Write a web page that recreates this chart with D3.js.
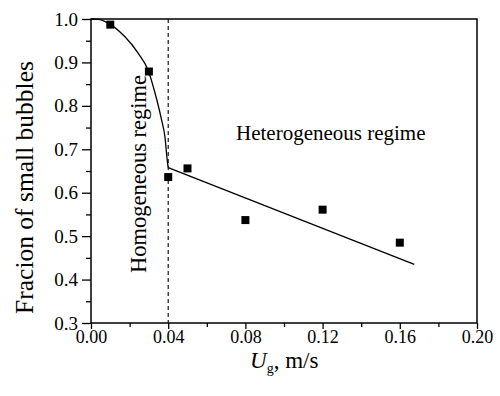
<!DOCTYPE html>
<html>
<head>
<meta charset="utf-8">
<script src="https://cdn.jsdelivr.net/npm/d3@7"></script>
<style>
  body { margin: 0; background: #fff; }
</style>
</head>
<body>
<svg id="chart" width="500" height="396"></svg>
<script>
// measured points
const ugData = [0.01, 0.03, 0.04, 0.05, 0.08, 0.12, 0.16];
const fracData = [0.987, 0.879, 0.636, 0.656, 0.537, 0.561, 0.485];

// model curve (homogeneous part, then linear heterogeneous part)
const curveUg = [0, 0.004, 0.0073, 0.0176, 0.0245, 0.0297, 0.0332, 0.0366, 0.0383, 0.0395, 0.04];
const curveFrac = [1.0, 0.999, 0.994, 0.959, 0.921, 0.881, 0.829, 0.767, 0.729, 0.675, 0.658];
const lineUg = [0.04, 0.1675];
const lineFrac = [0.658, 0.435];

const xTicks = [0, 0.04, 0.08, 0.12, 0.16, 0.20];
const yTicks = [0.3, 0.4, 0.5, 0.6, 0.7, 0.8, 0.9, 1.0];
const boundary = 0.04;

const FONT = 'Liberation Serif';
const margin = {left: 91, top: 19, right: 23, bottom: 73};
const W = 500, H = 396;

const svg = d3.select('#chart').attr('font-family', FONT);

const x = d3.scaleLinear().domain([0, 0.2]).range([margin.left, W - margin.right]);
const y = d3.scaleLinear().domain([0.3, 1.0]).range([H - margin.bottom, margin.top]);

// minor ticks
const xMinor = d3.range(0.02, 0.2, 0.04);
const yMinor = d3.range(0.35, 1.0, 0.1);

svg.append('g')
  .attr('transform', `translate(0,${y(0.3)})`)
  .call(d3.axisBottom(x).tickValues(xMinor).tickSize(4).tickFormat(''))
  .call(g => g.select('.domain').remove())
  .selectAll('line').attr('stroke-width', 1.3);

svg.append('g')
  .attr('transform', `translate(${x(0)},0)`)
  .call(d3.axisLeft(y).tickValues(yMinor).tickSize(5).tickFormat(''))
  .call(g => g.select('.domain').remove())
  .selectAll('line').attr('stroke-width', 1.3);

const xAxis = svg.append('g')
  .attr('transform', `translate(0,${y(0.3)})`)
  .call(d3.axisBottom(x).tickValues(xTicks).tickSize(6).tickPadding(1).tickFormat(d3.format('.2f')))
  .attr('font-family', FONT).attr('font-size', 18);
xAxis.select('.domain').remove();
xAxis.selectAll('line').attr('stroke-width', 1.3);

const yAxis = svg.append('g')
  .attr('transform', `translate(${x(0)},0)`)
  .call(d3.axisLeft(y).tickValues(yTicks).tickSize(9).tickPadding(4).tickFormat(d3.format('.1f')))
  .attr('font-family', FONT).attr('font-size', 19);
yAxis.select('.domain').remove();
yAxis.selectAll('line').attr('stroke-width', 1.3);

// frame
svg.append('rect')
  .attr('x', x(0)).attr('y', y(1.0))
  .attr('width', x(0.2) - x(0)).attr('height', y(0.3) - y(1.0))
  .attr('fill', 'none').attr('stroke', '#000').attr('stroke-width', 1.5);

// regime boundary
svg.append('line')
  .attr('x1', x(boundary)).attr('x2', x(boundary))
  .attr('y1', y(1.0)).attr('y2', y(0.3))
  .attr('stroke', '#000').attr('stroke-width', 1.1)
  .attr('stroke-dasharray', '4,3');

// model line
svg.append('path')
  .datum(d3.zip(curveUg, curveFrac))
  .attr('d', d3.line().x(d => x(d[0])).y(d => y(d[1])).curve(d3.curveMonotoneX))
  .attr('fill', 'none').attr('stroke', '#000').attr('stroke-width', 1.3);
svg.append('path')
  .datum(d3.zip(lineUg, lineFrac))
  .attr('d', d3.line().x(d => x(d[0])).y(d => y(d[1])))
  .attr('fill', 'none').attr('stroke', '#000').attr('stroke-width', 1.3);

// markers
const ms = 8;
svg.selectAll('rect.pt').data(d3.zip(ugData, fracData))
  .enter().append('rect')
  .attr('class', 'pt')
  .attr('x', d => x(d[0]) - ms / 2)
  .attr('y', d => y(d[1]) - ms / 2)
  .attr('width', ms).attr('height', ms)
  .attr('fill', '#000');

// annotations
svg.append('text')
  .attr('x', 236).attr('y', 140)
  .attr('font-size', 21)
  .text('Heterogeneous regime');

svg.append('text')
  .attr('transform', 'translate(146,273) rotate(-90)')
  .attr('font-size', 22.5)
  .text('Homogeneous regime');

// axis titles
svg.append('text')
  .attr('transform', 'translate(33,187.5) rotate(-90)')
  .attr('text-anchor', 'middle')
  .attr('font-size', 25.5)
  .text('Fracion of small bubbles');

const xt = svg.append('text')
  .attr('x', 250).attr('y', 368)
  .attr('font-size', 23);
xt.append('tspan').attr('font-style', 'italic').text('U');
xt.append('tspan').attr('dy', 5).attr('font-size', 14).text('g');
xt.append('tspan').attr('dy', -5).text(', m/s');
</script>
</body>
</html>
